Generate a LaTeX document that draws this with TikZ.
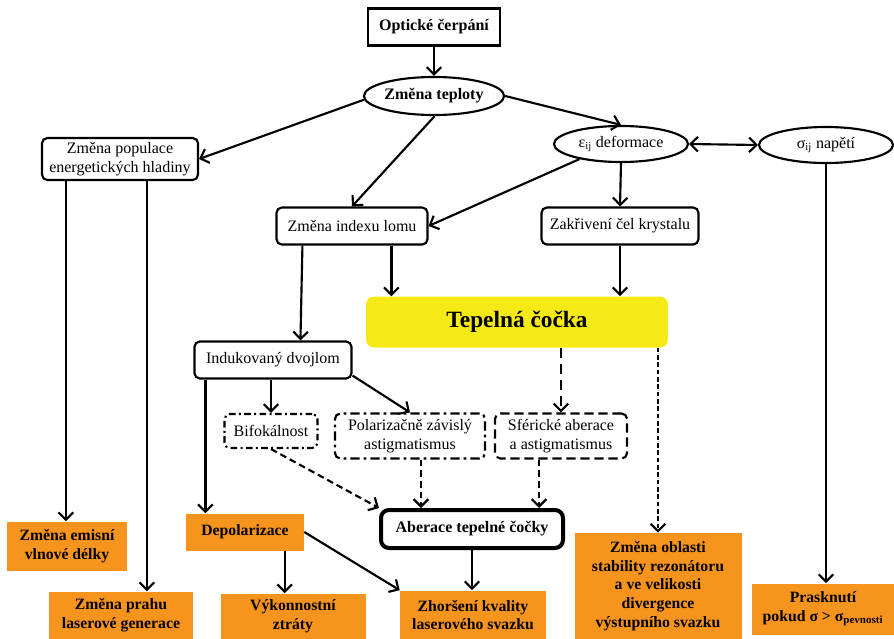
\documentclass[tikz,border=0pt]{standalone}
\usepackage{fontspec}
\setmainfont{Liberation Serif}
\usetikzlibrary{arrows.meta,shapes.geometric,calc}
\definecolor{orng}{RGB}{247,148,29}
\definecolor{ylw}{RGB}{245,234,22}
\tikzset{
  base/.style={inner sep=0pt, align=center},
  nfont/.style={font=\fontsize{12}{14}\selectfont},
  bfont/.style={font=\bfseries\fontsize{12}{14}\selectfont},
  rbox/.style={base, draw, line width=1.6pt, rounded corners=4pt, nfont},
  obox/.style={base, fill=orng, font=\bfseries\fontsize{11.8}{14}\selectfont},
  ell/.style={base, ellipse, draw, line width=1.6pt},
  arr/.style={line width=1.6pt, -{Straight Barb[length=5.5pt,width=11pt]}},
  darr/.style={line width=1.6pt, {Straight Barb[length=5.5pt,width=11pt]}-{Straight Barb[length=5.5pt,width=11pt]}},
  dasharr/.style={arr, dash pattern=on 5pt off 3pt},
  longdash/.style={arr, dash pattern=on 8pt off 4pt},
  densedash/.style={arr, dash pattern=on 3.5pt off 2pt},
  ddot/.style={dash pattern=on 5pt off 2.5pt on 1.5pt off 2.5pt},
  ddot2/.style={dash pattern=on 7pt off 3pt on 2pt off 3pt},
  dsh/.style={dash pattern=on 7pt off 3.5pt}
}
\begin{document}
\begin{tikzpicture}[x=0.75pt,y=-0.75pt]
\useasboundingbox (0,0) rectangle (894,639);

% top
\node[base, draw, line width=1.6pt, minimum width=132*0.75pt, minimum height=37*0.75pt, bfont] (oc) at (434,27) {Optické čerpání};
\node[ell, minimum width=134*0.75pt, minimum height=38*0.75pt, bfont] (zt) at (434,96) {Změna teploty};
\node[ell, minimum width=134*0.75pt, minimum height=36*0.75pt, nfont] (zd) at (621,144) {ε\textsubscript{ij} deformace};
\node[ell, minimum width=134*0.75pt, minimum height=36*0.75pt, nfont] (zn) at (826,145) {σ\textsubscript{ij} napětí};

\node[rbox, minimum width=156*0.75pt, minimum height=42*0.75pt] (zp) at (120,159) {Změna populace\\energetických hladiny};
\node[rbox, minimum width=151*0.75pt, minimum height=37*0.75pt] (zi) at (352,226) {Změna indexu lomu};
\node[rbox, minimum width=157*0.75pt, minimum height=37*0.75pt] (zk) at (620,226) {Zakřivení čel krystalu};

\node[base, fill=ylw, rounded corners=6pt, minimum width=302*0.75pt, minimum height=51*0.75pt, font=\bfseries\fontsize{17.5}{20}\selectfont] (tc) at (517,322) {Tepelná čočka};

\node[rbox, minimum width=157*0.75pt, minimum height=37*0.75pt] (id) at (273,360) {Indukovaný dvojlom};
\node[rbox, ddot, minimum width=93*0.75pt, minimum height=34*0.75pt] (bf) at (271,431) {Bifokálnost};
\node[rbox, ddot2, minimum width=150*0.75pt, minimum height=45*0.75pt] (pz) at (410,436) {Polarizačně závislý\\astigmatismus};
\node[rbox, dsh, minimum width=132*0.75pt, minimum height=45*0.75pt] (sf) at (561,436) {Sférické aberace\\a astigmatismus};

\node[base, draw, line width=3pt, rounded corners=6pt, minimum width=182*0.75pt, minimum height=38*0.75pt, bfont] (ab) at (472,529) {Aberace tepelné čočky};

% orange results
\node[obox, minimum width=120*0.75pt, minimum height=49*0.75pt] (em) at (67,546) {Změna emisní\\vlnové délky};
\node[obox, minimum width=144*0.75pt, minimum height=47*0.75pt] (pg) at (121,615) {Změna prahu\\laserové generace};
\node[obox, minimum width=118*0.75pt, minimum height=37*0.75pt] (dp) at (245,532) {Depolarizace};
\node[obox, minimum width=145*0.75pt, minimum height=45*0.75pt] (vk) at (293,616) {Výkonnostní\\ztráty};
\node[obox, minimum width=146*0.75pt, minimum height=49*0.75pt] (zh) at (473,615) {Zhoršení kvality\\laserového svazku};
\node[obox, minimum width=167*0.75pt, minimum height=106*0.75pt] (zo) at (658,586) {Změna oblasti\\stability rezonátoru\\a ve velikosti\\divergence\\výstupního svazku};
\node[obox, minimum width=142*0.75pt, minimum height=51*0.75pt] (pr) at (823,609) {Prasknutí\\pokud σ > σ\textsubscript{pevnosti}};

% connectors
\draw[arr] (oc) -- (zt);
\draw[arr] (zt.183) -- (zp.east);
\draw[arr] (zt.272) -- (zi.north);
\draw[arr] (zt.east) -- (zd.north);
\draw[darr] (zd.east) -- (zn.west);
\draw[arr] (zd.200) -- (zi.east);
\draw[arr] (zd.south) -- (zk.north);

\coordinate (p1) at ($(zp.south west)+(25,0)$);
\coordinate (p2) at ($(zp.south west)+(106,0)$);
\draw[arr] (p1) -- (p1 |- em.north);
\draw[arr] (p2) -- (p2 |- pg.north);
\draw[arr] (zn.south) -- (zn.south |- pr.north);

\coordinate (i1) at ($(zi.south west)+(27,0)$);
\coordinate (i2) at ($(zi.south west)+(116,0)$);
\draw[arr] (i1) -- ($(id.north west)+(107,0)$);
\draw[arr] (i2) -- (i2 |- tc.north);
\draw[arr] (zk.south) -- (zk.south |- tc.north);

\draw[arr] (id.south -| bf.north) -- (bf.north);
\draw[arr] ($(id.south east)+(0,-4)$) -- (pz.north);
\coordinate (d1) at ($(id.south west)+(12,0)$);
\draw[arr] (d1) -- (d1 |- dp.north);

\draw[longdash] (tc.south -| sf.north) -- (sf.north);
\draw[densedash] (tc.south -| zo.north) -- (zo.north);

\draw[dasharr] (bf.south) -- (ab.north west);
\coordinate (q1) at ($(pz.south)+(11,0)$);
\draw[dasharr] (q1) -- (q1 |- ab.north);
\coordinate (q2) at ($(sf.south)+(-22,0)$);
\draw[dasharr] (q2) -- (q2 |- ab.north);

\coordinate (v1) at ($(dp.south west)+(99,0)$);
\draw[arr] (v1) -- (v1 |- vk.north);
\draw[arr] (dp.east) -- (zh.north west);
\draw[arr] (ab.south) -- (ab.south |- zh.north);
\end{tikzpicture}
\end{document}
